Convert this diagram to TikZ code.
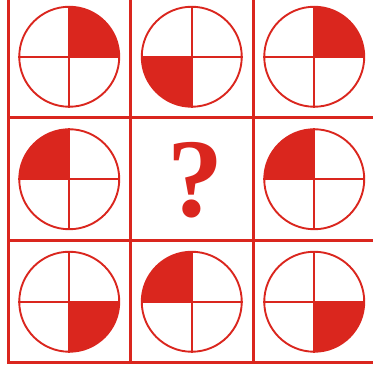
\documentclass[tikz,border=0pt]{standalone}
\usepackage{fontspec}
\newfontfamily\quizfont{Liberation Serif}
\definecolor{puzred}{RGB}{218,38,30}

\begin{document}
\begin{tikzpicture}[
        x=1pt, y=1pt,
        cell/.style={draw=puzred, line width=3pt, line cap=rect},
        dial/.style={circle, draw=puzred, line width=1.9pt, inner sep=0pt,
                     minimum size=100pt},
        spoke/.style={draw=puzred, line width=1.9pt},
        wedge/.style={fill=puzred}
    ]
    \useasboundingbox (0,0) rectangle (373,371);
    % grid of cells
    \begin{scope}
        \clip (0,0) rectangle (373,371);
        \draw[cell] (8,8) rectangle (375.5,375.5);
        \foreach \k in {1,2} {
            \draw[cell] (8+122.5*\k,8) -- (8+122.5*\k,375.5);
            \draw[cell] (8,8+122.5*\k) -- (375.5,8+122.5*\k);
        }
    \end{scope}
    % dials: row/column/start angle of the filled quarter
    \foreach \r/\c/\a in {1/1/0, 1/2/180, 1/3/0,
                          2/1/90, 2/3/90,
                          3/1/270, 3/2/90, 3/3/270} {
        \node[dial] (d-\r-\c) at (69.25+122.5*\c-122.5, 314.25-122.5*\r+122.5) {};
        \fill[wedge] (d-\r-\c.center) -- ++(\a:50)
            arc[start angle=\a, delta angle=90, radius=50] -- cycle;
        \draw[spoke] (d-\r-\c.north) -- (d-\r-\c.south);
        \draw[spoke] (d-\r-\c.west) -- (d-\r-\c.east);
    }
    \node[text=puzred, inner sep=0pt] (ask) at (195,191)
        {\quizfont\bfseries\fontsize{112}{112}\selectfont ?};
\end{tikzpicture}
\end{document}
